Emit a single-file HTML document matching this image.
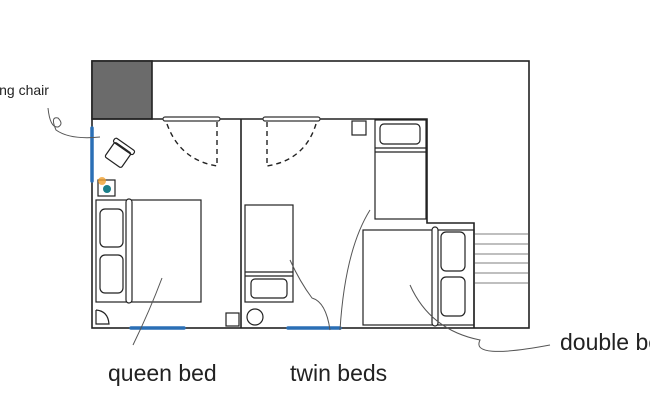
<!DOCTYPE html>
<html><head><style>
html,body{margin:0;padding:0;background:#fff;width:650px;height:420px;overflow:hidden}
svg{position:absolute;left:0;top:0}
</style></head><body>
<svg width="650" height="420" viewBox="0 0 650 420" xmlns="http://www.w3.org/2000/svg" font-family="Liberation Sans, sans-serif">
<g fill="none" stroke="#222" stroke-width="1.6">
<rect x="92" y="61" width="437" height="267"/>
<rect x="92" y="61" width="60" height="58" fill="#6b6b6b"/>
<polyline points="92,119 427,119 427,223 474,223 474,328"/>
<line x1="241" y1="119" x2="241" y2="328"/>
</g>
<g stroke="#2a6fb5" stroke-width="3.5" stroke-linecap="round">
<line x1="92" y1="128" x2="92" y2="181"/>
<line x1="131" y1="328" x2="184" y2="328"/>
<line x1="288" y1="328" x2="340" y2="328"/>
</g>
<g fill="#fff" stroke="#333" stroke-width="1.2">
<rect x="163" y="117" width="57" height="4" rx="2"/>
<rect x="263" y="117" width="57" height="4" rx="2"/>
</g>
<g fill="none" stroke="#222" stroke-width="1.4" stroke-dasharray="5,4">
<line x1="217" y1="122" x2="217" y2="166"/>
<path d="M167,124 Q180,160 217,166"/>
<line x1="267" y1="122" x2="267" y2="166"/>
<path d="M316,124 Q305,160 267,166"/>
</g>
<g fill="none" stroke="#222" stroke-width="1.2">
<g transform="rotate(35 118 155)"><rect x="108" y="146" width="20" height="18" rx="2"/><rect x="106" y="142" width="24" height="5" rx="2"/></g>
<rect x="98" y="180" width="17" height="16"/>
<rect x="96" y="200" width="105" height="102"/>
<rect x="126" y="199" width="6" height="104" rx="3" fill="#fff"/>
<rect x="100" y="209" width="23" height="38" rx="5"/>
<rect x="100" y="255" width="23" height="38" rx="5"/>
<path d="M96,310 L96,324 L109,324 Q108,311 96,310"/>
<rect x="226" y="313" width="13" height="13"/>
<rect x="245" y="205" width="48" height="97"/>
<line x1="245" y1="276" x2="293" y2="276"/>
<line x1="245" y1="272" x2="293" y2="272"/>
<rect x="251" y="279" width="36" height="19" rx="4"/>
<circle cx="255" cy="317" r="8"/>
<rect x="375" y="120" width="51" height="99"/>
<line x1="375" y1="148" x2="426" y2="148"/>
<line x1="375" y1="152" x2="426" y2="152"/>
<rect x="380" y="124" width="40" height="20" rx="4"/>
<rect x="352" y="121" width="14" height="14"/>
<rect x="363" y="230" width="111" height="95"/>
<rect x="432" y="227" width="6" height="99" rx="3" fill="#fff"/>
<rect x="441" y="232" width="24" height="39" rx="5"/>
<rect x="441" y="277" width="24" height="39" rx="5"/>
</g>
<circle cx="107" cy="189" r="4" fill="#1b7f8a"/>
<circle cx="102" cy="181" r="4" fill="#f0a030" opacity="0.8"/>
<g stroke="#999" stroke-width="1.2">
<line x1="475" y1="234" x2="528" y2="234"/>
<line x1="475" y1="244" x2="528" y2="244"/>
<line x1="475" y1="254" x2="528" y2="254"/>
<line x1="475" y1="263" x2="528" y2="263"/>
<line x1="475" y1="273" x2="528" y2="273"/>
<line x1="475" y1="283" x2="528" y2="283"/>
</g>
<g fill="none" stroke="#555" stroke-width="1">
<path d="M48,108 Q50,128 58,127 Q64,124 58,118 Q50,116 56,130 Q70,140 100,137"/>
<path d="M133,345 Q150,310 162,278"/>
<path d="M340,330 Q345,250 370,210"/>
<path d="M330,330 Q326,302 312,298 Q300,282 290,260"/>
<path d="M410,285 Q430,330 480,340 Q470,360 550,345"/>
</g>
<text x="-4" y="95" font-size="14" fill="#222">ing chair</text>
<text x="108" y="381" font-size="23" fill="#222">queen bed</text>
<text x="290" y="381" font-size="23" fill="#222">twin beds</text>
<text x="560" y="350" font-size="23" fill="#222">double bed</text>
</svg>
</body></html>
